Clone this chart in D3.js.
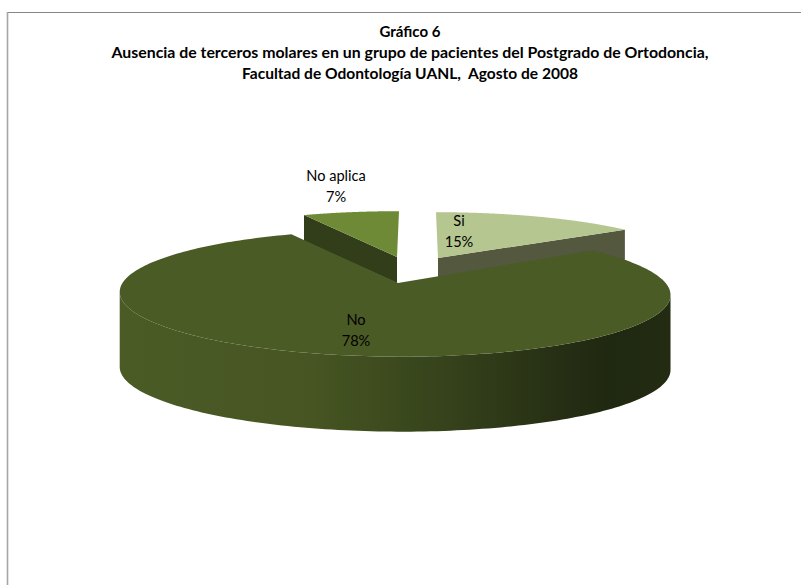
<!DOCTYPE html>
<html lang="es">
<head>
<meta charset="utf-8">
<title>Gráfico 6</title>
<script src="https://cdn.jsdelivr.net/npm/d3@7"></script>
<style>
  html, body { margin: 0; padding: 0; background: #fff; }
  svg { display: block; }
  text { font-family: Lato, "Open Sans", sans-serif; fill: #000; }
</style>
</head>
<body>
<svg id="chart" width="801" height="585"></svg>
<script>
// Chart content
const categories = ["Si", "No", "No aplica"];
const shares = [15, 78, 7];
const shareLabels = ["15%", "78%", "7%"];
const titleLines = [
  "Gráfico 6",
  "Ausencia de terceros molares en un grupo de pacientes del Postgrado de Ortodoncia,",
  "Facultad de Odontología UANL,  Agosto de 2008"
];
const titleWidths = [61, 597, 336];

// Appearance of each wedge: hub position, radii, perspective strength, lean, wall height
const wedgeStyles = [
  { hub: [438, 258], rx: 251, ry: 52, k: 0.135, m: 0, lean: 2.3, wall: 30, top: "#b5c690", side: "#53583f" },
  { hub: [398, 283], rx: 271.5, ry: 61.5, k: 0.165, m: -0.0146, lean: 7, wall: 75, top: "#4b5b26", side: "url(#wallShade)" },
  { hub: [397, 257], rx: 250, ry: 52, k: 0.135, m: 0, lean: -2.3, wall: 26, top: "#6f8a36", side: "#323d19" }
];
const labelSpots = [[459, 221], [356, 320], [336, 176.5]];
const wallStops = [
  [0, "#4b5b26"], [0.35, "#465522"], [0.6, "#35421b"], [0.8, "#262f14"], [0.9, "#1f2810"], [1, "#232c13"]
];

const svg = d3.select("#chart");

// Frame: only the top and left rules show inside the page
svg.append("line").attr("x1", 7).attr("x2", 801).attr("y1", 12.5).attr("y2", 12.5)
  .attr("stroke", "#868686").attr("stroke-width", 1.2);
svg.append("line").attr("x1", 7.5).attr("x2", 7.5).attr("y1", 12).attr("y2", 585)
  .attr("stroke", "#a6a6a6").attr("stroke-width", 1.6);

// Side wall shading of the large wedge
const grad = svg.append("defs").append("linearGradient")
  .attr("id", "wallShade").attr("gradientUnits", "userSpaceOnUse")
  .attr("x1", 119).attr("x2", 669).attr("y1", 0).attr("y2", 0);
grad.selectAll("stop").data(wallStops).join("stop")
  .attr("offset", d => d[0]).attr("stop-color", d => d[1]);

// Angles come from the shares, clockwise from twelve o'clock
const pie = d3.pie().sort(null).value(d => d)(shares);

// Tilted-disc projection: angle on the disc to a point on the page
const projector = s => t => {
  const u = Math.sin(t), v = -Math.cos(t);
  const w = 1 - s.k * v - s.m * u;
  return [s.hub[0] + (s.rx * u + s.lean * v) / w, s.hub[1] + s.ry * v / w];
};
const line = d3.line();
const arcSamples = (a0, a1) => d3.range(0, 241).map(i => a0 + (a1 - a0) * i / 240);

const drawOrder = [0, 2, 1];
drawOrder.forEach(i => {
  const s = wedgeStyles[i], slice = pie[i], project = projector(s);
  const rim = arcSamples(slice.startAngle, slice.endAngle).map(project);
  const drop = p => [p[0], p[1] + s.wall];
  const g = svg.append("g").attr("class", "wedge");

  if (i === 1) {
    // Only the stretch of rim between the side extremes faces the viewer
    const right = d3.greatestIndex(rim, p => p[0]);
    const left = d3.leastIndex(rim, p => p[0]);
    const front = rim.slice(right, left + 1);
    g.append("path").attr("d", line(front.concat(front.slice().reverse().map(drop))) + "Z")
      .attr("fill", s.side);
  } else {
    // The smaller wedges show one radial wall
    const corner = i === 0 ? rim[rim.length - 1] : rim[0];
    g.append("path").attr("d", line([s.hub, corner, drop(corner), drop(s.hub)]) + "Z")
      .attr("fill", s.side);
  }
  g.append("path").attr("d", line([s.hub].concat(rim)) + "Z").attr("fill", s.top);
});

// Title
svg.append("g").selectAll("text").data(titleLines).join("text")
  .attr("x", 410)
  .attr("y", (d, i) => 36.5 + i * 21)
  .attr("text-anchor", "middle")
  .attr("font-size", 14.6)
  .attr("font-weight", 700)
  .attr("textLength", (d, i) => titleWidths[i])
  .attr("lengthAdjust", "spacingAndGlyphs")
  .style("white-space", "pre")
  .text(d => d);

// Category and share labels
const labels = svg.append("g").selectAll("g").data(categories).join("g")
  .attr("transform", (d, i) => `translate(${labelSpots[i][0]},${labelSpots[i][1]})`);
labels.append("text").attr("text-anchor", "middle").attr("y", 4.5).attr("font-size", 14.6).text(d => d);
labels.append("text").attr("text-anchor", "middle").attr("y", 25.5).attr("font-size", 14.6)
  .text((d, i) => shareLabels[i]);
</script>
</body>
</html>
